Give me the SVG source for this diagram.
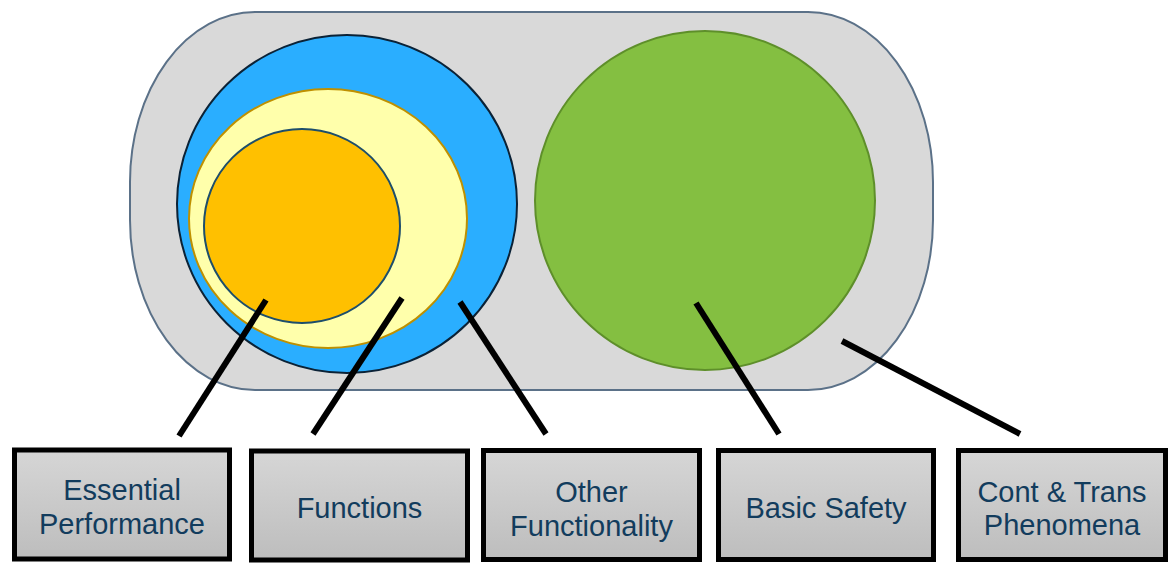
<svg xmlns="http://www.w3.org/2000/svg" width="1168" height="563" viewBox="0 0 1168 563">
<defs>
<linearGradient id="boxg" x1="0" y1="0" x2="0" y2="1">
<stop offset="0" stop-color="#d6d6d6"/>
<stop offset="1" stop-color="#bdbdbd"/>
</linearGradient>
</defs>
<style>
.box{fill:url(#boxg);stroke:#000;stroke-width:5}
.lbl{font-family:"Liberation Sans",Arial,sans-serif;font-size:29px;fill:#123c5d;text-anchor:middle}
.conn{stroke:#000;stroke-width:6;fill:none}
</style>
<rect width="1168" height="563" fill="#fff"/>
<g id="container">
<rect x="130" y="12" width="803" height="378" rx="125" ry="170" fill="#d9d9d9" stroke="#5b7188" stroke-width="2"/>
</g>
<g id="other-functionality-area">
<ellipse cx="347" cy="204" rx="170" ry="169" fill="#2aaeff" stroke="#0b2236" stroke-width="2"/>
</g>
<g id="functions-area">
<ellipse cx="328" cy="218.5" rx="139" ry="129.5" fill="#ffffab" stroke="#bf9000" stroke-width="2"/>
</g>
<g id="essential-performance-area">
<ellipse cx="302" cy="226" rx="98" ry="97" fill="#ffc000" stroke="#1d4e6b" stroke-width="2"/>
</g>
<g id="basic-safety-area">
<ellipse cx="705" cy="200.5" rx="170" ry="169.5" fill="#84bf41" stroke="#5e8f2a" stroke-width="2"/>
</g>
<g id="connectors">
<line class="conn" x1="266" y1="300" x2="179" y2="436"/>
<line class="conn" x1="402" y1="298" x2="313" y2="434"/>
<line class="conn" x1="460" y1="302" x2="546" y2="434"/>
<line class="conn" x1="696" y1="303" x2="779" y2="434"/>
<line class="conn" x1="842" y1="341" x2="1020" y2="434"/>
</g>
<g id="box-essential-performance">
<rect class="box" x="14.5" y="450" width="215" height="109"/>
<text class="lbl" x="122" y="500">Essential</text>
<text class="lbl" x="122" y="534">Performance</text>
</g>
<g id="box-functions">
<rect class="box" x="251.5" y="451" width="216" height="109"/>
<text class="lbl" x="359.5" y="518">Functions</text>
</g>
<g id="box-other-functionality">
<rect class="box" x="483.5" y="450.5" width="216" height="109"/>
<text class="lbl" x="591.5" y="502">Other</text>
<text class="lbl" x="591.5" y="536">Functionality</text>
</g>
<g id="box-basic-safety">
<rect class="box" x="718.5" y="450.5" width="215" height="109"/>
<text class="lbl" x="826" y="518">Basic Safety</text>
</g>
<g id="box-cont-trans">
<rect class="box" x="958.5" y="450.5" width="207" height="109"/>
<text class="lbl" x="1062" y="502">Cont &amp; Trans</text>
<text class="lbl" x="1062" y="535">Phenomena</text>
</g>
</svg>
